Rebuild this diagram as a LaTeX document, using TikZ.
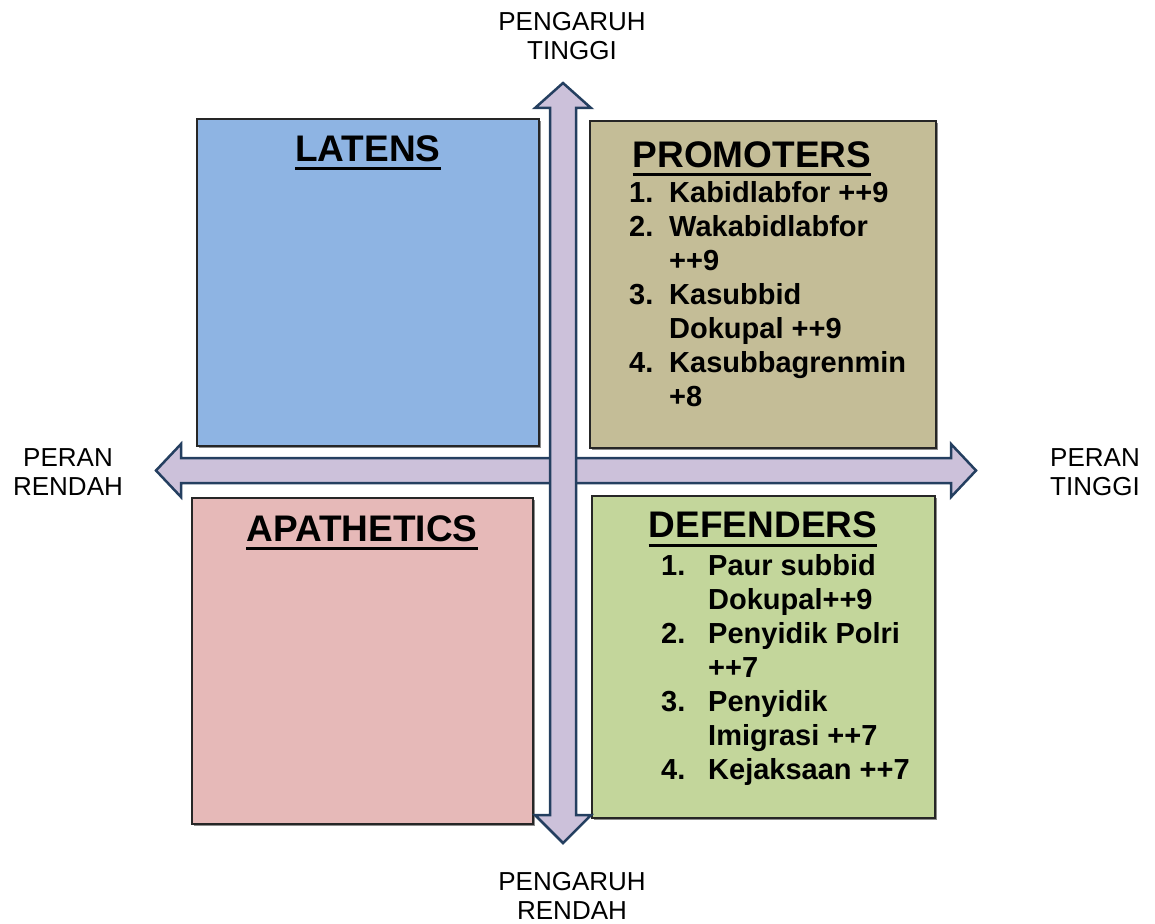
\documentclass[tikz,border=0pt]{standalone}
\usepackage{fontspec}
\setmainfont{Liberation Sans}
\usepackage{array}
\definecolor{latfill}{HTML}{8EB4E3}
\definecolor{profill}{HTML}{C4BD97}
\definecolor{apafill}{HTML}{E6B9B8}
\definecolor{deffill}{HTML}{C3D69B}
\definecolor{arrfill}{HTML}{CCC1DA}
\definecolor{arrline}{HTML}{243F60}
\begin{document}
\begin{tikzpicture}[x=1pt,y=-1pt,
  quad/.style={draw=black!85,line width=1.2pt},
  shadowbox/.style={fill=black!45},
  arrowshape/.style={fill=arrfill,draw=arrline,line width=2.5pt,line join=miter},
  title/.style={font=\bfseries\fontsize{37}{44}\selectfont,inner sep=0pt,anchor=base},
  uline/.style={line width=3pt},
  axislabel/.style={font=\fontsize{26}{29}\selectfont,align=center,inner sep=0pt},
  list/.style={font=\bfseries\fontsize{29}{34}\selectfont,inner sep=0pt,anchor=base west}]
\useasboundingbox (0,0) rectangle (1155,923);

% quadrant boxes
\fill[shadowbox] (199,121) rectangle (541,448);
\draw[quad,fill=latfill] (197,119) rectangle (539,446);
\fill[shadowbox] (592,123) rectangle (938,450);
\draw[quad,fill=profill] (590,121) rectangle (936,448);
\fill[shadowbox] (194,500) rectangle (535,826);
\draw[quad,fill=apafill] (192,498) rectangle (533,824);
\fill[shadowbox] (594,498) rectangle (937,820);
\draw[quad,fill=deffill] (592,496) rectangle (935,818);

% horizontal double arrow
\draw[arrowshape] (156,470.5) -- (181,444) -- (181,458) -- (951,458) -- (951,444)
  -- (976,470.5) -- (951,497) -- (951,483) -- (181,483) -- (181,497) -- cycle;
% vertical double arrow
\draw[arrowshape] (563,83) -- (591,108) -- (576,108) -- (576,815) -- (591,815)
  -- (563,843) -- (535,815) -- (550,815) -- (550,108) -- (535,108) -- cycle;

% titles
\node[title] (lat) at (368,161) {LATENS};
\draw[uline] ([yshift=-7pt]lat.base west) -- ([yshift=-7pt]lat.base east);
\node[title] (pro) at (752,167) {PROMOTERS};
\draw[uline] ([yshift=-7pt]pro.base west) -- ([yshift=-7pt]pro.base east);
\node[title] (apa) at (362,541) {APATHETICS};
\draw[uline] ([yshift=-7pt]apa.base west) -- ([yshift=-7pt]apa.base east);
\node[title] (def) at (763,537) {DEFENDERS};
\draw[uline] ([yshift=-8pt]def.base west) -- ([yshift=-8pt]def.base east);

% lists
\node[list] (plist) at (629,202) {\begin{tabular}[t]{@{}p{40pt}@{}l@{}}
1.&Kabidlabfor ++9\\
2.&Wakabidlabfor\\
&++9\\
3.&Kasubbid\\
&Dokupal ++9\\
4.&Kasubbagrenmin\\
&+8
\end{tabular}};
\node[list] (dlist) at (661,575) {\begin{tabular}[t]{@{}p{47pt}@{}l@{}}
1.&Paur subbid\\
&Dokupal++9\\
2.&Penyidik Polri\\
&++7\\
3.&Penyidik\\
&Imigrasi ++7\\
4.&Kejaksaan ++7
\end{tabular}};

% axis labels
\node[axislabel] (top) at (572,36) {PENGARUH\\TINGGI};
\node[axislabel] (bottom) at (572,896) {PENGARUH\\RENDAH};
\node[axislabel] (left) at (68,472) {PERAN\\RENDAH};
\node[axislabel] (right) at (1095,472) {PERAN\\TINGGI};
\end{tikzpicture}
\end{document}
